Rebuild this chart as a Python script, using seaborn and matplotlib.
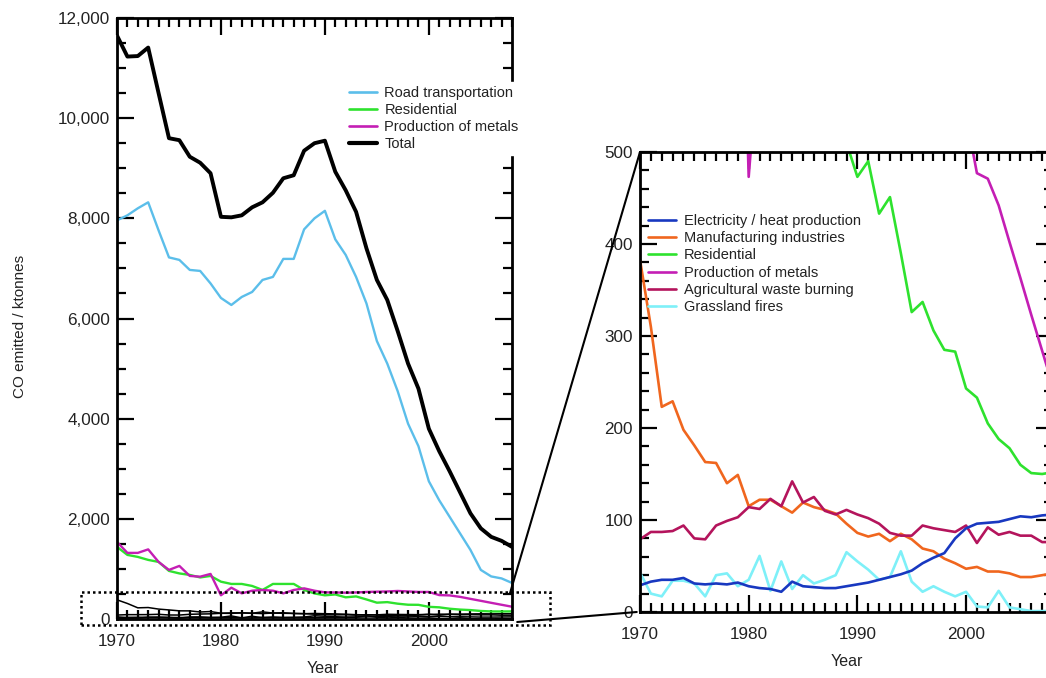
import matplotlib
matplotlib.use("Agg")
import matplotlib.pyplot as plt
from matplotlib.lines import Line2D
from matplotlib.patches import Rectangle, ConnectionPatch
from matplotlib.ticker import MultipleLocator, FuncFormatter
import pandas as pd
import seaborn as sns

# Annual CO emissions by source sector, ktonnes
years = list(range(1970, 2009))

total = [11650, 11230, 11240, 11410, 10500, 9600, 9560, 9230, 9110, 8900,
         8030, 8020, 8060, 8220, 8320, 8510, 8800, 8860, 9350, 9500,
         9550, 8930, 8560, 8130, 7400, 6770, 6370, 5750, 5100, 4600,
         3800, 3350, 2950, 2530, 2110, 1810, 1640, 1560, 1440]

road_transport = [7960, 8060, 8200, 8320, 7760, 7220, 7170, 6970, 6950, 6700,
                  6410, 6270, 6430, 6530, 6770, 6830, 7190, 7190, 7780, 8000,
                  8150, 7580, 7270, 6830, 6300, 5550, 5100, 4550, 3900, 3450,
                  2750, 2370, 2040, 1710, 1380, 980, 850, 810, 720]

residential = [1440, 1280, 1240, 1180, 1140, 960, 910, 880, 830, 860,
               745, 700, 700, 660, 580, 700, 700, 700, 580, 510,
               473, 490, 433, 451, 390, 326, 337, 306, 285, 283,
               243, 233, 205, 188, 178, 160, 151, 150, 152]

metals = [1540, 1320, 1320, 1390, 1140, 980, 1060, 860, 845, 900,
          473, 625, 512, 565, 579, 565, 512, 579, 612, 565,
          532, 530, 525, 530, 540, 545, 550, 560, 550, 540,
          540, 477, 471, 442, 402, 363, 323, 284, 245]

manufacturing = [383, 310, 223, 229, 198, 181, 163, 162, 140, 149,
                 115, 122, 122, 115, 108, 119, 114, 111, 107, 96,
                 86, 82, 85, 77, 85, 79, 69, 66, 58, 53,
                 47, 49, 44, 44, 42, 38, 38, 40, 42]

electricity = [29, 33, 35, 35, 37, 31, 30, 31, 30, 32,
               28, 26, 25, 22, 33, 28, 27, 26, 26, 28,
               30, 32, 35, 38, 41, 45, 53, 59, 64, 80,
               91, 96, 97, 98, 101, 104, 103, 105, 106]

agri_waste = [79, 87, 87, 88, 94, 80, 79, 94, 99, 103,
              114, 112, 123, 115, 142, 119, 125, 110, 106, 111,
              106, 102, 96, 86, 83, 83, 94, 91, 89, 87,
              94, 75, 92, 84, 87, 83, 83, 76, 76]

grassland = [43, 20, 17, 34, 34, 31, 17, 40, 42, 28,
             35, 61, 23, 55, 25, 40, 31, 35, 40, 65,
             55, 46, 35, 38, 66, 33, 22, 28, 22, 17,
             22, 6, 5, 23, 5, 3, 1, 1, 1]

df = pd.DataFrame({
    "Year": years,
    "Total": total,
    "Road transportation": road_transport,
    "Residential": residential,
    "Production of metals": metals,
    "Manufacturing industries": manufacturing,
    "Electricity / heat production": electricity,
    "Agricultural waste burning": agri_waste,
    "Grassland fires": grassland,
})

colors = {
    "Road transportation": "#5BBEEA",
    "Residential": "#2EE22E",
    "Production of metals": "#C41EB4",
    "Total": "#000000",
    "Electricity / heat production": "#1838C0",
    "Manufacturing industries": "#F0661E",
    "Agricultural waste burning": "#B4145C",
    "Grassland fires": "#7EF0F8",
}

sns.set_style("ticks")
plt.rcParams["font.family"] = ["Liberation Sans", "DejaVu Sans"]
plt.rcParams["text.color"] = "#222222"
plt.rcParams["axes.labelcolor"] = "#222222"
plt.rcParams["xtick.color"] = "#000000"
plt.rcParams["ytick.color"] = "#000000"
plt.rcParams["xtick.labelcolor"] = "#222222"
plt.rcParams["ytick.labelcolor"] = "#222222"

W, H = 1046, 678
fig = plt.figure(figsize=(W / 100, H / 100), dpi=100)
fig.patch.set_facecolor("white")

ax1 = fig.add_axes([117 / W, 1 - 619 / H, (512 - 117) / W, (619 - 18) / H])
ax2 = fig.add_axes([640 / W, 1 - 612 / H, (1053 - 640) / W, (612 - 152) / H])

minor_sectors = ["Electricity / heat production", "Manufacturing industries",
                 "Agricultural waste burning", "Grassland fires"]

# Overview panel: minor sectors as thin black lines, main sectors in colour
for name in minor_sectors:
    sns.lineplot(data=df, x="Year", y=name, color="black", lw=1.1, ax=ax1, legend=False)
sns.lineplot(data=df, x="Year", y="Residential", color=colors["Residential"], lw=1.7, ax=ax1)
sns.lineplot(data=df, x="Year", y="Production of metals", color=colors["Production of metals"], lw=1.7, ax=ax1)
sns.lineplot(data=df, x="Year", y="Road transportation", color=colors["Road transportation"], lw=1.7, ax=ax1)
sns.lineplot(data=df, x="Year", y="Total", color="black", lw=2.8, ax=ax1)

# Zoomed panel: all sectors below 500 ktonnes
zoom_order = ["Residential", "Production of metals", "Manufacturing industries",
              "Agricultural waste burning", "Grassland fires", "Electricity / heat production"]
for name in zoom_order:
    sns.lineplot(data=df, x="Year", y=name, color=colors[name], lw=1.9, ax=ax2, legend=False)

for ax in (ax1, ax2):
    ax.set_xlim(1970, 2008)
    ax.xaxis.set_major_locator(MultipleLocator(10))
    ax.xaxis.set_minor_locator(MultipleLocator(1))
    ax.tick_params(which="both", direction="in", top=True, right=True, width=1.6)
    ax.tick_params(which="major", length=12.5)
    ax.tick_params(which="minor", length=6.5)
    ax.tick_params(axis="x", which="major", labelsize=12.3, pad=11)
    ax.tick_params(axis="y", which="major", labelsize=12.3, pad=5)
    for sp in ax.spines.values():
        sp.set_linewidth(2.0)
        sp.set_color("black")
    ax.set_facecolor("white")

ax1.set_ylim(0, 12000)
ax1.yaxis.set_major_locator(MultipleLocator(2000))
ax1.yaxis.set_minor_locator(MultipleLocator(500))
ax1.yaxis.set_major_formatter(FuncFormatter(lambda v, p: f"{int(v):,}"))

ax2.set_ylim(0, 500)
ax2.yaxis.set_major_locator(MultipleLocator(100))
ax2.yaxis.set_minor_locator(MultipleLocator(20))

ax1.set_xlabel("Year", fontsize=11.5)
ax1.xaxis.set_label_coords((323 - 117) / 395, -(661 - 619) / 601)
ax1.set_ylabel("CO emitted / ktonnes", fontsize=11)
ax1.yaxis.set_label_coords((27 - 117) / 395, 0.4875)
ax2.set_xlabel("Year", fontsize=11.5)
ax2.xaxis.set_label_coords(0.5, -(654 - 612) / 460)
ax2.set_ylabel("")

def handle(name, lw):
    return Line2D([], [], color=colors[name], lw=lw)

def styled_legend(ax, names, anchor, boxed, pad):
    widths = {n: (3.0 if n == "Total" else 1.9) for n in names}
    leg = ax.legend([handle(n, widths[n]) for n in names], names,
                    loc="upper left", bbox_to_anchor=anchor,
                    bbox_transform=fig.transFigure, frameon=boxed, fancybox=False,
                    fontsize=10.5, handlelength=1.95, handletextpad=0.5,
                    labelspacing=0.22, borderpad=pad, borderaxespad=0)
    if boxed:
        # white box without outline, masking the spine behind the labels
        frame = leg.get_frame()
        frame.set_facecolor("white")
        frame.set_edgecolor("white")
        frame.set_alpha(1.0)
    leg.set_zorder(10)
    return leg

styled_legend(ax1, ["Road transportation", "Residential", "Production of metals", "Total"],
              (345 / W, 1 - 82 / H), True, 0.25)
styled_legend(ax2, ["Electricity / heat production", "Manufacturing industries", "Residential",
                    "Production of metals", "Agricultural waste burning", "Grassland fires"],
              (648 / W, 1 - 214 / H), False, 0.0)

# Dotted box marking the zoomed region, and connectors to the zoom panel
box = Rectangle((1966.5, -120), 2011.7 - 1966.5, 540 + 120, fill=False,
                linestyle=(0, (1, 1.2)), lw=1.8, edgecolor="black", clip_on=False, zorder=5)
ax1.add_patch(box)

for (xa, ya), (xb, yb) in [((2007.8, 510), (1970, 500)), ((2008.5, -60), (1969.7, 0))]:
    con = ConnectionPatch(xyA=(xa, ya), coordsA=ax1.transData,
                          xyB=(xb, yb), coordsB=ax2.transData,
                          color="black", lw=1.5)
    fig.add_artist(con)

fig.savefig("out.png", dpi=100)
